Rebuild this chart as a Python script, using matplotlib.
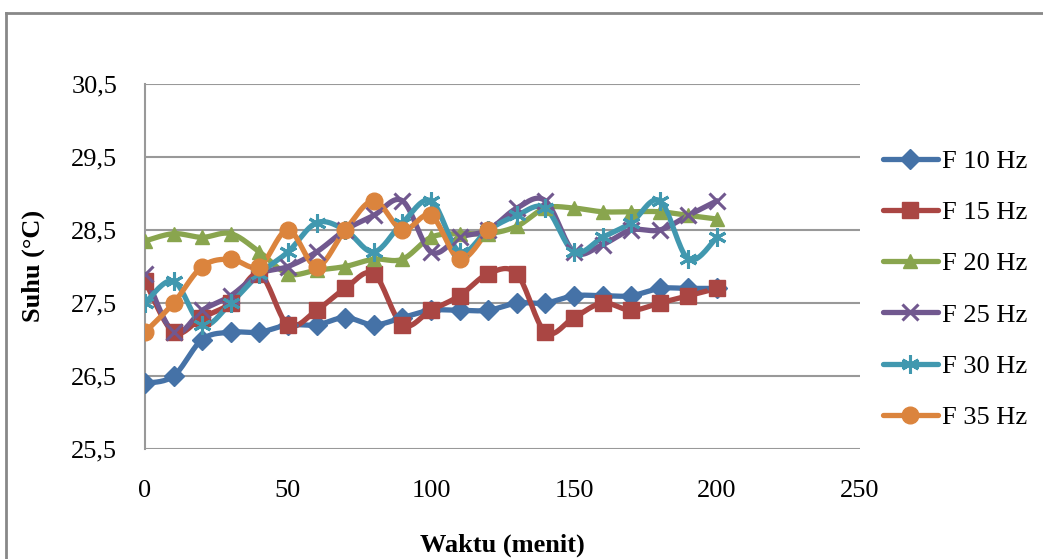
import numpy as np
import matplotlib
matplotlib.use("Agg")
import matplotlib.pyplot as plt
from matplotlib.lines import Line2D

# waktu (menit)
waktu = [0, 10, 20, 30, 40, 50, 60, 70, 80, 90, 100,
         110, 120, 130, 140, 150, 160, 170, 180, 190, 200]

f10 = [26.4, 26.5, 27.0, 27.1, 27.1, 27.2, 27.2, 27.3, 27.2, 27.3, 27.4,
       27.4, 27.4, 27.5, 27.5, 27.6, 27.6, 27.6, 27.7, 27.7, 27.7]
f15 = [27.8, 27.1, 27.3, 27.5, 27.9, 27.2, 27.4, 27.7, 27.9, 27.2, 27.4,
       27.6, 27.9, 27.9, 27.1, 27.3, 27.5, 27.4, 27.5, 27.6, 27.7]
f20 = [28.35, 28.45, 28.4, 28.45, 28.2, 27.9, 27.95, 28.0, 28.1, 28.1, 28.4,
       28.45, 28.45, 28.55, 28.8, 28.8, 28.75, 28.75, 28.75, 28.7, 28.65]
f25 = [27.9, 27.1, 27.4, 27.6, 27.9, 28.0, 28.2, 28.5, 28.7, 28.9, 28.2,
       28.4, 28.5, 28.8, 28.9, 28.2, 28.3, 28.5, 28.5, 28.7, 28.9]
f30 = [27.5, 27.8, 27.2, 27.5, 27.9, 28.2, 28.6, 28.5, 28.2, 28.6, 28.9,
       28.2, 28.5, 28.7, 28.8, 28.2, 28.4, 28.6, 28.9, 28.1, 28.4]
f35 = [27.1, 27.5, 28.0, 28.1, 28.0, 28.5, 28.0, 28.5, 28.9, 28.5, 28.7,
       28.1, 28.5]

labels = ["F 10 Hz", "F 15 Hz", "F 20 Hz", "F 25 Hz", "F 30 Hz", "F 35 Hz"]
series = [f10, f15, f20, f25, f30, f35]
colors = ["#4572A7", "#AA4643", "#89A54E", "#71588F", "#4198AF", "#DB843D"]
markers = ["D", "s", "^", "x", (6, 2, 0), "o"]
msizes = [10, 12, 10, 12, 13, 12]

yticks = [25.5, 26.5, 27.5, 28.5, 29.5, 30.5]
xticks = [0, 50, 100, 150, 200, 250]


def smooth(x, y, n=20):
    # kurva halus ala Excel (bezier, kontrol 1/6)
    x = np.asarray(x, float)
    y = np.asarray(y, float)
    px = np.concatenate([[x[0]], x, [x[-1]]])
    py = np.concatenate([[y[0]], y, [y[-1]]])
    t = np.linspace(0, 1, n)
    xs, ys = [], []
    for i in range(1, len(px) - 2):
        p0 = np.array([px[i], py[i]])
        p3 = np.array([px[i + 1], py[i + 1]])
        p1 = p0 + (np.array([px[i + 1], py[i + 1]]) - np.array([px[i - 1], py[i - 1]])) / 6
        p2 = p3 - (np.array([px[i + 2], py[i + 2]]) - np.array([px[i], py[i]])) / 6
        b = ((1 - t) ** 3)[:, None] * p0 + (3 * (1 - t) ** 2 * t)[:, None] * p1 \
            + (3 * (1 - t) * t ** 2)[:, None] * p2 + (t ** 3)[:, None] * p3
        xs.extend(b[:, 0])
        ys.extend(b[:, 1])
    return xs, ys


plt.rcParams['font.family'] = ['Liberation Serif', 'DejaVu Serif']

fig = plt.figure(figsize=(10.43, 5.59), dpi=100)
ax = fig.add_axes([145 / 1043, 1 - 449 / 559, 715 / 1043, 365 / 559])

handles = []
for s, lab, c, m, ms in zip(series, labels, colors, markers, msizes):
    xw = waktu[:len(s)]
    sx, sy = smooth(xw, s)
    ax.plot(sx, sy, color=c, lw=3.8, solid_capstyle='round', zorder=2)
    mew = 2.2 if m in ("x", (6, 2, 0)) else 1
    ax.plot(xw, s, ls='none', marker=m, ms=ms, color=c, mec=c, mew=mew, zorder=3)
    handles.append(Line2D([0], [0], color=c, lw=3.8, marker=m, ms=ms, mec=c, mew=mew,
                          solid_capstyle='round'))

ax.set_xlim(0, 250)
ax.set_ylim(25.5, 30.5)
ax.set_xticks(xticks)
ax.set_yticks(yticks)
ax.set_yticklabels([("%.1f" % v).replace(".", ",") for v in yticks])
ax.tick_params(length=0, labelsize=19)
ax.tick_params(axis='y', pad=20)
ax.tick_params(axis='x', pad=22)
ax.grid(axis='y', color='#999999', lw=1.5)
ax.set_axisbelow(True)
for sp in ["top", "right", "bottom"]:
    ax.spines[sp].set_visible(False)
ax.spines["left"].set_color('#999999')
ax.spines["left"].set_linewidth(1.5)

ax.set_xlabel("Waktu (menit)", fontsize=19, fontweight='bold')
ax.set_ylabel("Suhu (°C)", fontsize=19, fontweight='bold')
ax.xaxis.set_label_coords((502 - 145) / 715, (449 - 545) / 365)
ax.yaxis.set_label_coords((33 - 145) / 715, (449 - 266) / 365)
ax.xaxis.label.set_va('center')
ax.yaxis.label.set_va('center')

leg = fig.legend(handles, labels, loc='upper left', bbox_to_anchor=(872 / 1043, 1 - 139 / 559),
                 frameon=False, fontsize=19, handlelength=2.1, handletextpad=0.15,
                 labelspacing=1.05, borderaxespad=0)

# bingkai luar
fig.add_artist(Line2D([6 / 1043, 6 / 1043], [0, 1 - 13 / 559], color='#888888', lw=2))
fig.add_artist(Line2D([6 / 1043, 1], [1 - 13 / 559, 1 - 13 / 559], color='#888888', lw=2))

plt.savefig("out.png", dpi=100)
